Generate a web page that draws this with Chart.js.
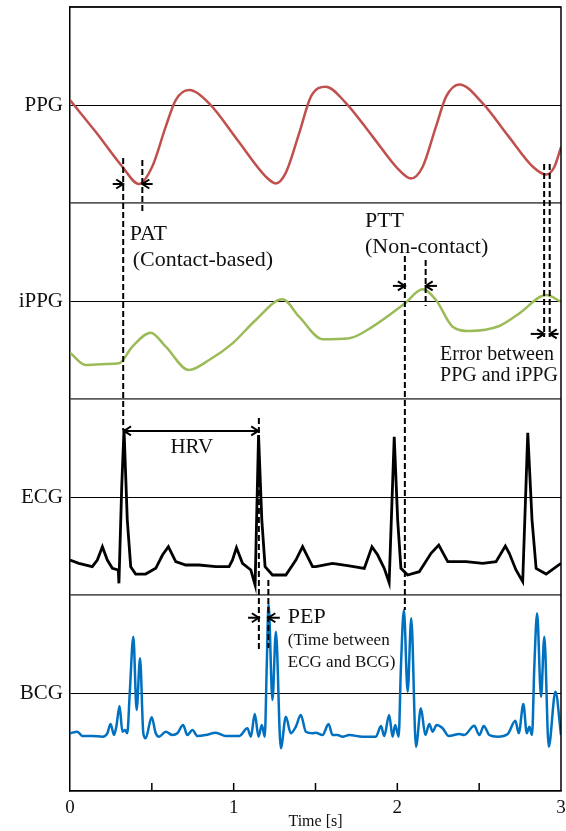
<!DOCTYPE html>
<html>
<head>
<meta charset="utf-8">
<script src="https://cdn.jsdelivr.net/npm/chart.js@4.4.1/dist/chart.umd.min.js"></script>
<style>
  html, body { margin: 0; padding: 0; background: #fff; }
  #wrap { width: 566px; height: 831px; }
</style>
</head>
<body>
<div id="wrap"><canvas id="c"></canvas></div>
<script>
// panel names, top to bottom
const panelNames = ['PPG', 'iPPG', 'ECG', 'BCG'];
const timeTicks = [0, 1, 2, 3];

// signals: time [s] and amplitude (1 = half a panel, relative to the panel's centre line)
const ppgTime = [0, 0.158, 0.32, 0.421, 0.502, 0.585, 0.646, 0.727, 0.850, 1.023,
  1.196, 1.257, 1.319, 1.400, 1.472, 1.563, 1.686, 1.848, 2.010, 2.083,
  2.155, 2.236, 2.298, 2.379, 2.522, 2.675, 2.828, 2.909, 2.960, 3.0];
const ppgValue = [0.05, -0.276, -0.63, -0.806, -0.63, -0.22, 0.05, 0.153, 0.017, -0.357,
  -0.73, -0.80, -0.69, -0.29, 0.085, 0.187, 0.02, -0.32, -0.663, -0.75,
  -0.63, -0.22, 0.085, 0.21, 0.017, -0.31, -0.63, -0.71, -0.63, -0.43];

const ippgTime = [0, 0.095, 0.218, 0.299, 0.381, 0.493, 0.585, 0.727, 0.850, 0.993,
  1.135, 1.298, 1.400, 1.543, 1.706, 1.849, 2.042, 2.155, 2.236, 2.338,
  2.440, 2.623, 2.746, 2.909, 3.0];
const ippgValue = [-0.527, -0.653, -0.643, -0.636, -0.466, -0.323, -0.466, -0.704, -0.602, -0.432,
  -0.194, 0.017, -0.16, -0.39, -0.38, -0.262, -0.03, 0.119, 0.01, -0.262,
  -0.306, -0.255, -0.126, 0.061, -0.007];

const ecgTime = [0, 0.054, 0.136, 0.167, 0.198, 0.228, 0.259, 0.295, 0.299, 0.316,
  0.330, 0.350, 0.371, 0.401, 0.462, 0.524, 0.565, 0.601, 0.646, 0.707,
  0.788, 0.891, 0.972, 0.993, 1.017, 1.054, 1.105, 1.131, 1.152, 1.172,
  1.192, 1.237, 1.319, 1.380, 1.421, 1.482, 1.502, 1.604, 1.706, 1.798,
  1.845, 1.880, 1.920, 1.950, 1.981, 2.002, 2.022, 2.063, 2.134, 2.206,
  2.253, 2.308, 2.420, 2.522, 2.603, 2.660, 2.684, 2.725, 2.766, 2.797,
  2.823, 2.848, 2.909, 3.0];
const ecgValue = [-0.643, -0.677, -0.711, -0.643, -0.507, -0.643, -0.728, -0.745, -0.881, 0.105,
  0.694, -0.235, -0.711, -0.786, -0.786, -0.728, -0.592, -0.507, -0.66, -0.694,
  -0.694, -0.711, -0.711, -0.643, -0.517, -0.677, -0.745, -0.898, 0.633, -0.235,
  -0.711, -0.796, -0.796, -0.643, -0.507, -0.711, -0.711, -0.677, -0.704, -0.728,
  -0.507, -0.592, -0.728, -0.874, 0.615, -0.235, -0.728, -0.796, -0.762, -0.574,
  -0.49, -0.66, -0.66, -0.677, -0.66, -0.5, -0.574, -0.745, -0.864, 0.656,
  -0.235, -0.728, -0.786, -0.677];

const bcgTime = [0, 0.045, 0.075, 0.136, 0.198, 0.228, 0.248, 0.269, 0.283, 0.303,
  0.320, 0.336, 0.350, 0.365, 0.387, 0.407, 0.428, 0.448, 0.462, 0.499,
  0.524, 0.544, 0.585, 0.626, 0.656, 0.691, 0.717, 0.748, 0.779, 0.829,
  0.891, 0.952, 1.033, 1.084, 1.105, 1.129, 1.152, 1.172, 1.190, 1.202,
  1.213, 1.237, 1.258, 1.288, 1.319, 1.349, 1.380, 1.410, 1.441, 1.482,
  1.502, 1.543, 1.580, 1.604, 1.635, 1.665, 1.706, 1.788, 1.869, 1.900,
  1.920, 1.950, 1.971, 1.987, 2.008, 2.022, 2.040, 2.063, 2.085, 2.114,
  2.144, 2.171, 2.195, 2.216, 2.240, 2.277, 2.314, 2.379, 2.409, 2.470,
  2.501, 2.528, 2.562, 2.613, 2.675, 2.721, 2.742, 2.770, 2.791, 2.807,
  2.823, 2.837, 2.854, 2.878, 2.898, 2.925, 2.966, 3.0];
const bcgValue = [-0.411, -0.395, -0.439, -0.439, -0.446, -0.411, -0.316, -0.429, -0.344, -0.133,
  -0.395, -0.378, -0.411, -0.003, 0.574, -0.173, 0.354, -0.411, -0.462, -0.248,
  -0.411, -0.446, -0.395, -0.429, -0.411, -0.327, -0.429, -0.378, -0.439, -0.429,
  -0.405, -0.439, -0.439, -0.36, -0.446, -0.214, -0.446, -0.327, -0.446, 0.268,
  0.908, -0.071, 0.626, -0.564, -0.242, -0.411, -0.344, -0.224, -0.395, -0.411,
  -0.405, -0.429, -0.316, -0.429, -0.429, -0.446, -0.429, -0.446, -0.446, -0.337,
  -0.439, -0.224, -0.446, -0.327, -0.446, 0.268, 0.847, 0.013, 0.762, -0.548,
  -0.156, -0.429, -0.316, -0.395, -0.327, -0.36, -0.439, -0.418, -0.429, -0.334,
  -0.429, -0.337, -0.429, -0.446, -0.418, -0.283, -0.411, -0.112, -0.411, -0.344,
  -0.429, 0.268, 0.813, -0.038, 0.574, -0.548, 0.013, -0.429];

// panel centre lines on the stacked y axis (0..4)
const centres = { PPG: 3.5, iPPG: 2.5, ECG: 1.5, BCG: 0.5 };
const FONT = "'Liberation Serif', 'Times New Roman', serif";

function series(times, values, centre) {
  return times.map((t, i) => ({ x: t, y: centre + values[i] * 0.5 }));
}

// annotations in data units (time, stacked y)
const dashed = [
  [0.325, 3.230, 1.842], [0.442, 3.219, 2.949],
  [2.046, 2.730, 0.923], [2.173, 2.709, 2.474],
  [2.897, 3.199, 2.316], [2.931, 3.199, 2.316],
  [1.154, 1.903, 0.714], [1.212, 1.077, 0.730]
];
const arrows = [ // [tail, tip, y]
  [0.261, 0.325, 3.097], [0.505, 0.442, 3.097],
  [1.973, 2.046, 2.577], [2.242, 2.173, 2.577],
  [2.815, 2.897, 2.332], [2.985, 2.931, 2.332],
  [1.088, 1.154, 0.884], [1.282, 1.212, 0.884]
];
const notes = [ // [text, t, y, size, align]
  ['PAT', 0.365, 2.811, 22, 'left'],
  ['(Contact-based)', 0.383, 2.679, 22, 'left'],
  ['PTT', 1.802, 2.879, 22, 'left'],
  ['(Non-contact)', 1.802, 2.745, 22, 'left'],
  ['Error between', 2.261, 2.199, 20, 'left'],
  ['PPG and iPPG', 2.261, 2.092, 20, 'left'],
  ['HRV', 0.744, 1.724, 21, 'center'],
  ['PEP', 1.331, 0.857, 22, 'left'],
  ['(Time between', 1.331, 0.745, 17, 'left'],
  ['ECG and BCG)', 1.331, 0.633, 17, 'left']
];

function head(ctx, tipX, y, dir) {
  ctx.beginPath();
  ctx.moveTo(tipX - dir * 7, y - 4.5);
  ctx.lineTo(tipX, y);
  ctx.lineTo(tipX - dir * 7, y + 4.5);
  ctx.stroke();
}

const overlay = {
  id: 'overlay',
  afterDatasetsDraw(chart) {
    const { ctx, chartArea: a, scales: { x, y } } = chart;
    ctx.save();
    ctx.strokeStyle = '#000';
    ctx.lineWidth = 1.5;
    ctx.beginPath();
    ctx.moveTo(a.left, a.top); ctx.lineTo(a.right, a.top); ctx.lineTo(a.right, a.bottom);
    ctx.stroke();

    // inward ticks on the time axis
    x.ticks.forEach(tk => {
      const px = x.getPixelForValue(tk.value);
      if (px > a.left + 1 && px < a.right - 1) {
        ctx.beginPath(); ctx.moveTo(px, a.bottom); ctx.lineTo(px, a.bottom - 8); ctx.stroke();
      }
    });

    ctx.lineWidth = 2;
    ctx.setLineDash([6, 3]);
    dashed.forEach(([t, y1, y2]) => {
      const px = x.getPixelForValue(t);
      ctx.beginPath(); ctx.moveTo(px, y.getPixelForValue(y1)); ctx.lineTo(px, y.getPixelForValue(y2)); ctx.stroke();
    });
    ctx.setLineDash([]);

    arrows.forEach(([t0, t1, v]) => {
      const x0 = x.getPixelForValue(t0), x1 = x.getPixelForValue(t1), py = y.getPixelForValue(v);
      ctx.beginPath(); ctx.moveTo(x0, py); ctx.lineTo(x1, py); ctx.stroke();
      head(ctx, x1, py, x1 > x0 ? 1 : -1);
    });

    // HRV double arrow between the two R peaks
    const hx0 = x.getPixelForValue(0.330), hx1 = x.getPixelForValue(1.150), hy = y.getPixelForValue(1.837);
    ctx.beginPath(); ctx.moveTo(hx0, hy); ctx.lineTo(hx1, hy); ctx.stroke();
    head(ctx, hx0, hy, -1); head(ctx, hx1, hy, 1);

    ctx.fillStyle = '#111';
    ctx.textBaseline = 'alphabetic';
    notes.forEach(([txt, t, v, size, align]) => {
      ctx.font = size + 'px ' + FONT;
      ctx.textAlign = align;
      ctx.fillText(txt, x.getPixelForValue(t), y.getPixelForValue(v));
    });
    ctx.restore();
  }
};

const lineStyle = { fill: false, pointRadius: 0, borderWidth: 2.5, cubicInterpolationMode: 'monotone' };

new Chart(document.getElementById('c'), {
  type: 'line',
  data: {
    datasets: [
      { ...lineStyle, label: 'PPG', data: series(ppgTime, ppgValue, centres.PPG), borderColor: '#C0504D' },
      { ...lineStyle, label: 'iPPG', data: series(ippgTime, ippgValue, centres.iPPG), borderColor: '#9BBB59' },
      { ...lineStyle, label: 'ECG', data: series(ecgTime, ecgValue, centres.ECG), borderColor: '#000', borderWidth: 2.8, cubicInterpolationMode: 'default', tension: 0 },
      { ...lineStyle, label: 'BCG', data: series(bcgTime, bcgValue, centres.BCG), borderColor: '#0070C0' }
    ]
  },
  options: {
    responsive: true,
    maintainAspectRatio: false,
    animation: false,
    layout: { padding: { top: 7, right: 5, left: 0, bottom: 0 } },
    plugins: { legend: { display: false }, tooltip: { enabled: false } },
    scales: {
      x: {
        type: 'linear', min: 0, max: 3,
        afterFit: s => { s.height = 40; s.paddingLeft = 0; s.paddingRight = 0; },
        ticks: {
          stepSize: 0.5, autoSkip: false, maxRotation: 0, padding: 6, color: '#111',
          font: { family: FONT, size: 19 },
          callback: v => timeTicks.includes(v) ? String(v) : ''
        },
        grid: { drawOnChartArea: false, drawTicks: false },
        border: { color: '#000', width: 1.5 },
        title: { display: true, text: 'Time [s]', color: '#111', font: { family: FONT, size: 16 }, padding: { top: 0, bottom: 0 } }
      },
      y: {
        min: 0, max: 4,
        afterFit: s => { s.width = 70; s.paddingTop = 0; s.paddingBottom = 0; },
        ticks: {
          stepSize: 0.5, autoSkip: false, padding: 7, color: '#111',
          font: { family: FONT, size: 21 },
          callback: v => {
            const i = [3.5, 2.5, 1.5, 0.5].indexOf(v);
            return i >= 0 ? panelNames[i] : '';
          }
        },
        grid: {
          drawTicks: false,
          color: c => Number.isInteger(c.tick.value) ? '#5a5a5a' : '#000',
          lineWidth: c => Number.isInteger(c.tick.value) ? 1.8 : 1
        },
        border: { color: '#000', width: 1.5 }
      }
    }
  },
  plugins: [overlay]
});
</script>
</body>
</html>
